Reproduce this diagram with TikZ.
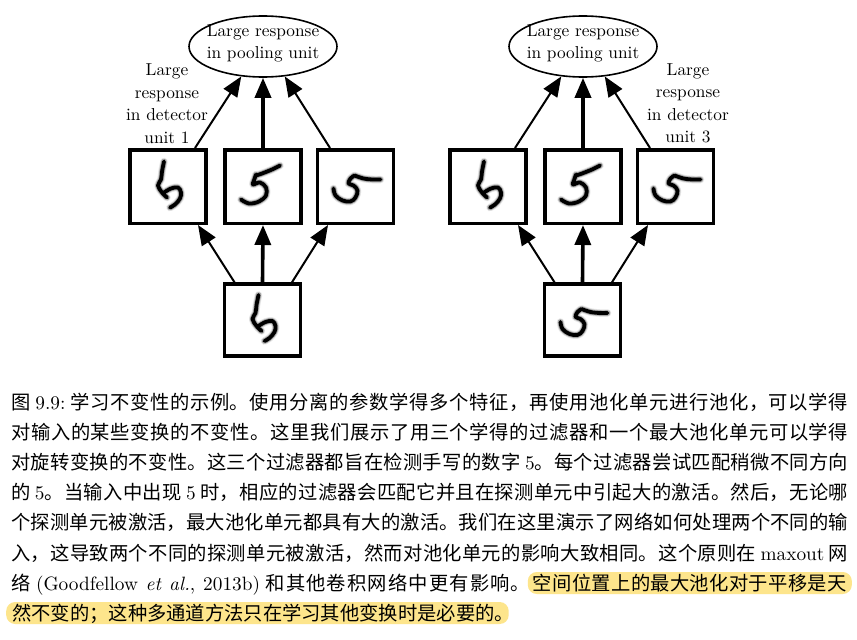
\documentclass[tikz,border=0pt]{standalone}
\usepackage{fontspec}
% the 10pt design of Latin Modern, at every size
\setmainfont{lmroman10}[Extension=.otf,UprightFont=*-regular,ItalicFont=*-italic,BoldFont=*-bold]
\newfontfamily\cjk{Noto Sans CJK SC}
\usetikzlibrary{arrows.meta,shapes.geometric}
\definecolor{hlyellow}{RGB}{253,229,140}

% stretchable glue between Han characters, so that a caption line can be
% set justified inside a box of fixed width
\XeTeXinterchartokenstate=1
\newcount\hancode
\hancode="4E00
\loop
  \XeTeXcharclass\hancode=77
  \advance\hancode by 1
\ifnum\hancode<"A000 \repeat
\XeTeXcharclass"3002=77 \XeTeXcharclass"FF0C=77 \XeTeXcharclass"FF1B=77
\newcommand\hanglue{\hskip 0pt plus 3pt minus 0.6pt\relax}
\XeTeXinterchartoks 77 77 = {\hanglue}
\newcommand\mixsp{\hskip 4pt plus 4pt minus 1pt\relax}

% a pen stroke with a soft edge
\newcommand\inkdraw[1]{%
  \draw[ink,line width=7.5pt,black!10] #1;
  \draw[ink,line width=5.6pt,black!35] #1;
  \draw[ink,line width=3.8pt,black] #1;}

\tikzset{
  ink/.style={line cap=round,line join=round},
  % three handwritten fives, drawn about the centre of a box
  pics/digitA/.style={code={\inkdraw{plot[smooth,tension=0.6] coordinates {(-4,-25) (-6,-15) (-7,-7) (-10,-1) (-6,6) (-1,11)}
      plot[smooth,tension=0.6] coordinates {(-4,6) (3,2) (10,1) (13,6) (12,12) (7,18) (2,21)}}}},
  pics/digitB/.style={code={\inkdraw{plot[smooth,tension=0.5] coordinates {(17,-21) (9,-17) (-1,-13) (-7,-11)}
      plot[smooth,tension=0.6] coordinates {(-7,-12) (-9,-6) (-10,-2) (-3,-4) (3,1) (3,9) (-4,15) (-14,17) (-22,13)}}}},
  pics/digitC/.style={code={\inkdraw{plot[smooth,tension=0.6] coordinates {(-22,2) (-20,9) (-13,14) (-5,15) (0,11) (2,4) (-2,-1) (-7,-3) (-5,-8) (-1,-11)}
      plot[smooth,tension=0.5] coordinates {(-1,-11) (8,-8) (17,-7) (25,-7)}}}}
}

\begin{document}
\begin{tikzpicture}[x=1pt,y=-1pt,
  unitbox/.style={draw,line width=3.5pt,minimum width=76pt,minimum height=73.5pt,inner sep=0pt},
  inputbox/.style={unitbox,minimum height=72pt},
  poolunit/.style={draw,ellipse,line width=1.6pt,minimum width=148pt,minimum height=61pt,inner sep=0pt},
  lbl/.style={align=center,font=\fontsize{17.3}{22.5}\selectfont,inner sep=0pt},
  edgethin/.style={line width=2pt,-{Triangle[length=20pt,width=16pt]}},
  edgethick/.style={line width=3.6pt,-{Triangle[length=20pt,width=16pt]}},
  capline/.style={anchor=base west,inner sep=0pt,font=\fontsize{19.3}{23}\selectfont},
  hl/.style={fill=hlyellow,rounded corners=9pt,inner xsep=5pt,inner ysep=2pt,
    text height=16pt,text depth=2pt,font=\fontsize{19.3}{23}\selectfont}
]
\useasboundingbox (0,0) rectangle (857,640);
\fill[white] (0,0) rectangle (857,640);

% ---- left: input is a rotated five, detector unit 1 responds ----
\node[poolunit] (poolL) at (263,46.5) {};
\node[lbl] (poolLtext) at (263,43.5) {Large response\\in pooling unit};
\node[unitbox] (dL1) at (168,186.5) {};
\node[unitbox] (dL2) at (263,186.5) {};
\node[unitbox] (dL3) at (355.5,186.5) {};
\node[inputbox] (inL) at (262.5,320) {};
\pic at (dL1) {digitA};
\pic at (dL2) {digitB};
\pic at (dL3) {digitC};
\pic at (inL) {digitA};
\node[lbl] (detL) at (167,103.5) {Large\\response\\in detector\\unit 1};

\draw[edgethin] ([xshift=27pt]dL1.north) -- (poolL.234);
\draw[edgethick] (dL2.north) -- (poolL.south);
\draw[edgethin] ([xshift=-25.5pt]dL3.north) -- (poolL.306);
\draw[edgethin] ([xshift=-28pt]inL.north) -- ([xshift=30pt]dL1.south);
\draw[edgethick] (inL.north) -- (dL2.south);
\draw[edgethin] ([xshift=29.5pt]inL.north) -- ([xshift=-27.5pt]dL3.south);

% ---- right: input is a sideways five, detector unit 3 responds ----
\node[poolunit] (poolR) at (583,46.5) {};
\node[lbl] (poolRtext) at (583,43.5) {Large response\\in pooling unit};
\node[unitbox] (dR1) at (488,186.5) {};
\node[unitbox] (dR2) at (583,186.5) {};
\node[unitbox] (dR3) at (675.5,186.5) {};
\node[inputbox] (inR) at (582.5,320) {};
\pic at (dR1) {digitA};
\pic at (dR2) {digitB};
\pic at (dR3) {digitC};
\pic at (inR) {digitC};
\node[lbl] (detR) at (688,103.5) {Large\\response\\in detector\\unit 3};

\draw[edgethin] ([xshift=27pt]dR1.north) -- (poolR.234);
\draw[edgethick] (dR2.north) -- (poolR.south);
\draw[edgethin] ([xshift=-25.5pt]dR3.north) -- (poolR.306);
\draw[edgethin] ([xshift=-28pt]inR.north) -- ([xshift=30pt]dR1.south);
\draw[edgethick] (inR.north) -- (dR2.south);
\draw[edgethin] ([xshift=29.5pt]inR.north) -- ([xshift=-27.5pt]dR3.south);

% ---- caption ----
\node[capline] (cap1) at (11,409) {\hbox to 837pt{{\cjk 图}\mixsp 9.9:\mixsp{\cjk 学习不变性的示例。使用分离的参数学得多个特征，再使用池化单元进行池化，可以学得}}};
\node[capline] (cap2) at (11,439) {\hbox to 837pt{{\cjk 对输入的某些变换的不变性。这里我们展示了用三个学得的过滤器和一个最大池化单元可以学得}}};
\node[capline] (cap3) at (11,469) {\hbox to 837pt{{\cjk 对旋转变换的不变性。这三个过滤器都旨在检测手写的数字}\mixsp 5{\cjk 。每个过滤器尝试匹配稍微不同方向}}};
\node[capline] (cap4) at (11,499) {\hbox to 837pt{{\cjk 的}\mixsp 5{\cjk 。当输入中出现}\mixsp 5\mixsp{\cjk 时，相应的过滤器会匹配它并且在探测单元中引起大的激活。然后，无论哪}}};
\node[capline] (cap5) at (11,529) {\hbox to 837pt{{\cjk 个探测单元被激活，最大池化单元都具有大的激活。我们在这里演示了网络如何处理两个不同的输}}};
\node[capline] (cap6) at (11,560) {\hbox to 837pt{{\cjk 入，这导致两个不同的探测单元被激活，然而对池化单元的影响大致相同。这个原则在}\mixsp maxout\mixsp{\cjk 网}}};
\node[capline] (cap7) at (11,590) {\hbox to 519pt{{\cjk 络}\mixsp(Goodfellow \textit{et al.}, 2013b)\mixsp{\cjk 和其他卷积网络中更有影响。}}};
\node[hl,anchor=base east] (cap7hl) at (852,590) {\hbox to 314pt{\cjk 空间位置上的最大池化对于平移是天}};
\node[hl,anchor=base west,inner xsep=6pt] (cap8) at (6,620) {{\cjk 然不变的；这种多通道方法只在学习其他变换时是必要的}\makebox[8pt][l]{\cjk 。}};
\end{tikzpicture}
\end{document}
